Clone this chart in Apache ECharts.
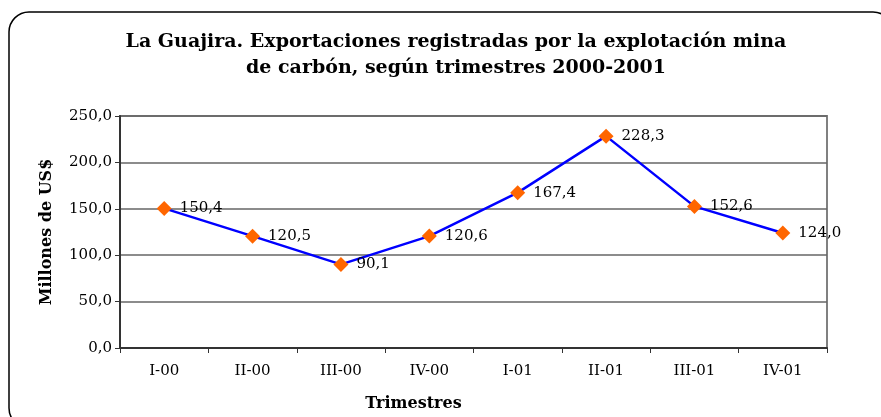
<!DOCTYPE html>
<html>
<head>
<meta charset="utf-8">
<script src="https://cdn.jsdelivr.net/npm/echarts@6/dist/echarts.min.js"></script>
<style>
  html, body { margin: 0; padding: 0; background: #fff; }
  #chart { width: 881px; height: 417px; }
</style>
</head>
<body>
<div id="chart"></div>
<script>
// trimestres 2000-2001
var categories = ["I-00", "II-00", "III-00", "IV-00", "I-01", "II-01", "III-01", "IV-01"];
var exportaciones = [150.4, 120.5, 90.1, 120.6, 167.4, 228.3, 152.6, 124.0];

var serif = "'DejaVu Serif', 'Liberation Serif', serif";

function coma(v) {
  return Number(v).toFixed(1).replace(".", ",");
}

var chart = echarts.init(document.getElementById("chart"));

var option = {
  backgroundColor: "#fff",
  animation: false,
  title: {
    text: "La Guajira. Exportaciones registradas por la explotación mina\nde carbón, según trimestres 2000-2001",
    left: 451,
    top: 24,
    textAlign: "center",
    textStyle: {
      fontFamily: serif,
      fontWeight: "bold",
      fontSize: 19,
      lineHeight: 26,
      color: "#000"
    }
  },
  graphic: [
    {
      // marco redondeado del grafico
      type: "rect",
      shape: { x: 9, y: 12, width: 884, height: 416, r: 20 },
      style: { fill: "none", stroke: "#000", lineWidth: 1.5 },
      silent: true,
      z: 100
    }
  ],
  grid: {
    left: 120,
    right: 54,
    top: 116,
    bottom: 69,
    show: true,
    borderColor: "#808080",
    borderWidth: 2
  },
  xAxis: {
    type: "category",
    data: categories,
    boundaryGap: true,
    name: "Trimestres",
    nameLocation: "middle",
    nameGap: 48,
    nameTextStyle: {
      fontFamily: serif,
      fontWeight: "bold",
      fontSize: 16,
      color: "#000",
      padding: [0, 120, 0, 0]
    },
    axisLine: { lineStyle: { color: "#333", width: 2 } },
    axisTick: { show: true, length: 5, lineStyle: { color: "#333", width: 1 } },
    axisLabel: {
      fontFamily: serif,
      fontSize: 15,
      color: "#000",
      margin: 16
    }
  },
  yAxis: {
    type: "value",
    min: 0,
    max: 250,
    interval: 50,
    name: "Millones de US$",
    nameLocation: "middle",
    nameGap: 65,
    nameTextStyle: {
      fontFamily: serif,
      fontWeight: "bold",
      fontSize: 16,
      color: "#000"
    },
    axisLine: { show: true, lineStyle: { color: "#333", width: 2 } },
    axisTick: { show: true, length: 5, lineStyle: { color: "#333", width: 1 } },
    axisLabel: {
      fontFamily: serif,
      fontSize: 15,
      color: "#000",
      margin: 8,
      formatter: function(v) { return coma(v); }
    },
    splitLine: { show: true, lineStyle: { color: "#666", width: 1.5 } }
  },
  series: [
    {
      name: "Exportaciones",
      type: "line",
      data: exportaciones,
      symbol: "diamond",
      symbolSize: 15,
      lineStyle: { color: "#0000ff", width: 2.5 },
      itemStyle: { color: "#ff6600" },
      label: {
        show: true,
        position: "right",
        distance: 8,
        fontFamily: serif,
        fontSize: 15,
        color: "#000",
        formatter: function(p) { return coma(p.value); }
      }
    }
  ]
};

chart.setOption(option);
</script>
</body>
</html>
